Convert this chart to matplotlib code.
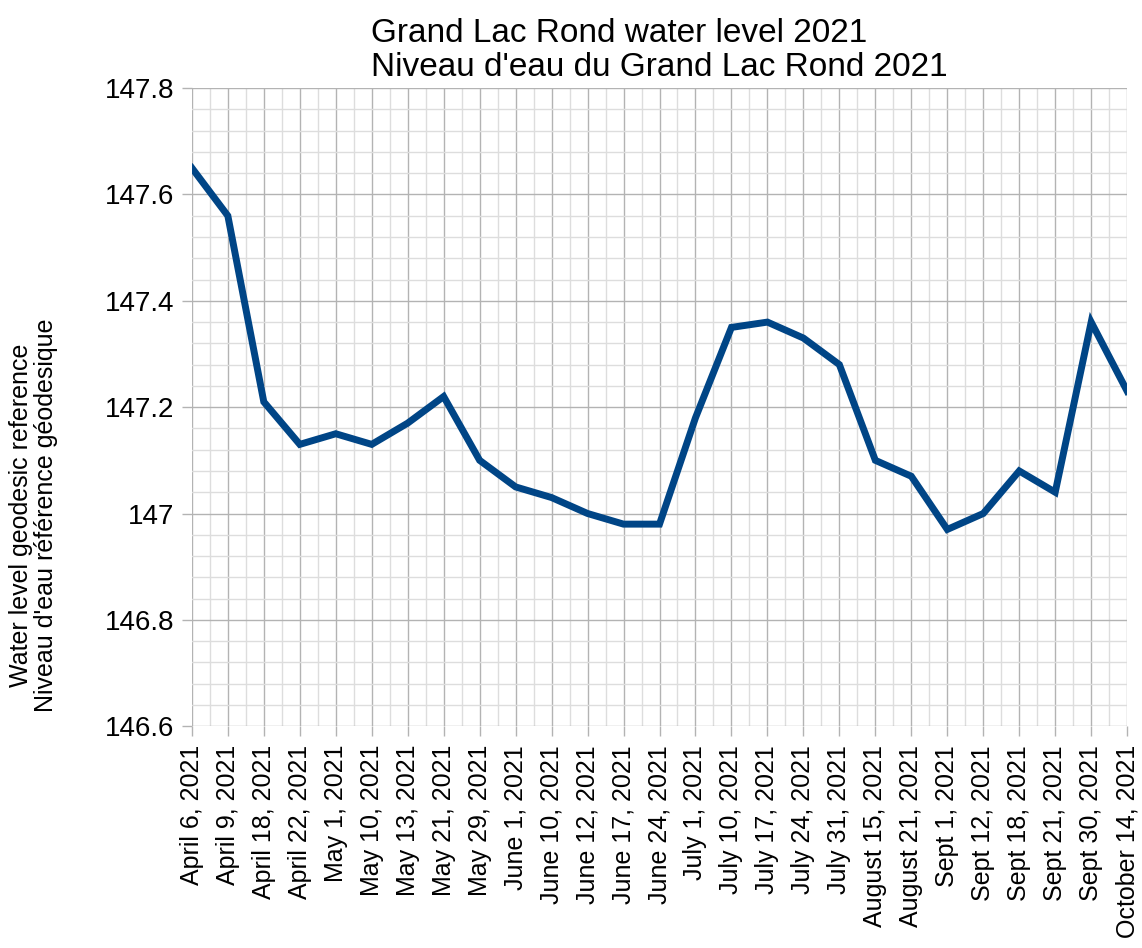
import matplotlib
matplotlib.use("Agg")
import matplotlib.pyplot as plt
import numpy as np
from matplotlib.ticker import FixedLocator, MultipleLocator, FuncFormatter

dates = [
    "April 6, 2021", "April 9, 2021", "April 18, 2021", "April 22, 2021",
    "May 1, 2021", "May 10, 2021", "May 13, 2021", "May 21, 2021",
    "May 29, 2021", "June 1, 2021", "June 10, 2021", "June 12, 2021",
    "June 17, 2021", "June 24, 2021", "July 1, 2021", "July 10, 2021",
    "July 17, 2021", "July 24, 2021", "July 31, 2021", "August 15, 2021",
    "August 21, 2021", "Sept 1, 2021", "Sept 12, 2021", "Sept 18, 2021",
    "Sept 21, 2021", "Sept 30, 2021", "October 14, 2021",
]
levels = [
    147.65, 147.56, 147.21, 147.13, 147.15, 147.13, 147.17, 147.22,
    147.10, 147.05, 147.03, 147.00, 146.98, 146.98, 147.18, 147.35,
    147.36, 147.33, 147.28, 147.10, 147.07, 146.97, 147.00, 147.08,
    147.04, 147.36, 147.23,
]

plt.rcParams["font.family"] = ["Liberation Sans", "DejaVu Sans"]

fig = plt.figure(figsize=(11.42, 9.48), dpi=100)
ax = fig.add_axes([0.168, 0.234, 0.819, 0.673])

x = np.arange(len(dates))
ax.plot(x, levels, color="#004586", linewidth=5, solid_joinstyle="miter", zorder=3)

ax.set_xlim(0, len(dates) - 1)
ax.set_ylim(146.6, 147.8)

ax.xaxis.set_major_locator(FixedLocator(x))
ax.xaxis.set_minor_locator(FixedLocator(x[:-1] + 0.5))
ax.set_xticklabels(dates, rotation=90, fontsize=18)
ax.yaxis.set_major_locator(MultipleLocator(0.2))
ax.yaxis.set_minor_locator(MultipleLocator(0.04))
ax.yaxis.set_major_formatter(FuncFormatter(lambda v, _: f"{v:g}"))
ax.tick_params(axis="y", labelsize=20, pad=5)

ax.tick_params(which="major", direction="out", length=7.5, width=1, color="#b3b3b3")
ax.tick_params(axis="x", pad=6)
ax.tick_params(which="minor", length=0)

ax.grid(which="major", color="#b3b3b3", linewidth=1)
ax.grid(which="minor", color="#dddddd", linewidth=1)
for s in ax.spines.values():
    s.set_visible(False)

ax.set_ylabel("Water level geodesic reference\nNiveau d'eau référence géodesique",
              fontsize=18, linespacing=1.05)
ax.yaxis.set_label_coords(-0.143, 0.33)
ax.set_title("Grand Lac Rond water level 2021\nNiveau d'eau du Grand Lac Rond 2021",
             fontsize=24, multialignment="left", pad=9, linespacing=1.1)

fig.savefig("out.png", dpi=100)
